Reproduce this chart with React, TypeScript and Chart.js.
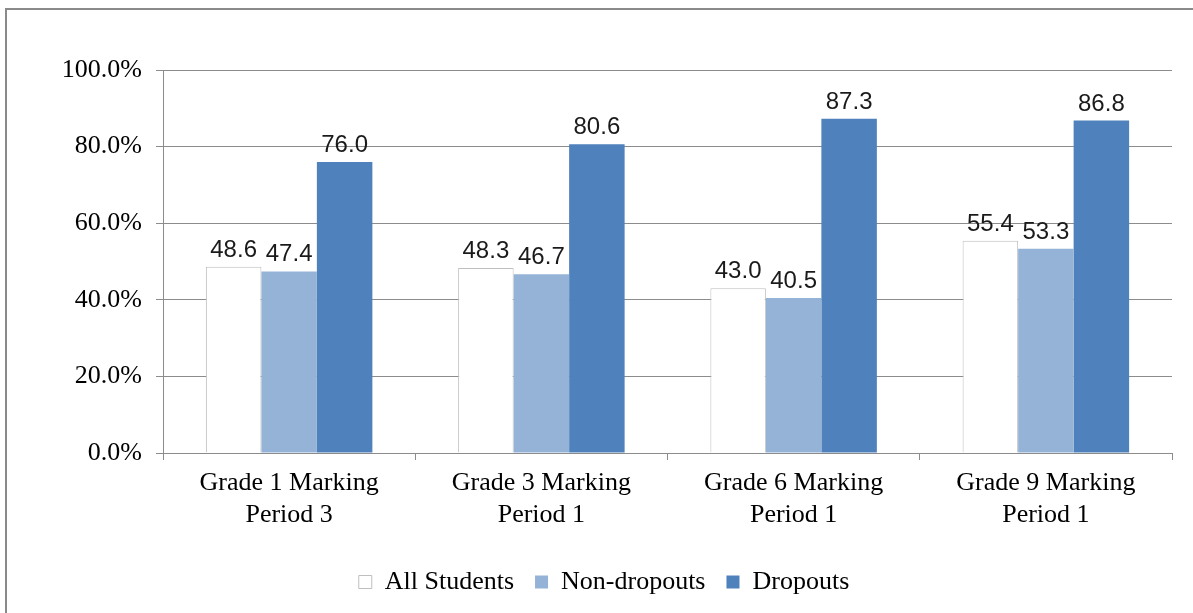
import React, { useEffect, useRef } from "react";
import { Chart, registerables } from "chart.js";

Chart.register(...registerables);

const categories: string[][] = [
  ["Grade 1 Marking", "Period 3"],
  ["Grade 3 Marking", "Period 1"],
  ["Grade 6 Marking", "Period 1"],
  ["Grade 9 Marking", "Period 1"],
];
const allStudents: number[] = [48.6, 48.3, 43.0, 55.4];
const nonDropouts: number[] = [47.4, 46.7, 40.5, 53.3];
const dropouts: number[] = [76.0, 80.6, 87.3, 86.8];
const yTicks: number[] = [0, 20, 40, 60, 80, 100];

const GRID = "#8c8c8c";
const SERIF = "'Liberation Serif', 'Times New Roman', serif";
const SANS = "'Liberation Sans', Arial, sans-serif";

const frame = {
  id: "frame",
  beforeDraw(chart: any) {
    const ctx = chart.ctx;
    ctx.save();
    ctx.fillStyle = "#ffffff";
    ctx.fillRect(0, 0, chart.width, chart.height);
    ctx.strokeStyle = "#8a8a8a";
    ctx.lineWidth = 2;
    ctx.strokeRect(6, 9, chart.width + 20, chart.height + 20);
    ctx.restore();
  },
};

const valueLabels = {
  id: "valueLabels",
  afterDatasetsDraw(chart: any) {
    const ctx = chart.ctx;
    ctx.save();
    ctx.font = `24px ${SANS}`;
    ctx.fillStyle = "#1a1a1a";
    ctx.textAlign = "center";
    ctx.textBaseline = "alphabetic";
    chart.data.datasets.forEach((ds: any, i: number) => {
      const meta = chart.getDatasetMeta(i);
      meta.data.forEach((bar: any, j: number) => {
        const v = ds.data[j] as number;
        ctx.fillText(v.toFixed(1), bar.x, bar.y - 10);
      });
    });
    ctx.restore();
  },
};

const legendShift = {
  id: "legendShift",
  afterLayout(chart: any) {
    const lg = chart.legend;
    if (lg) {
      lg.left += 18;
      lg.right += 18;
    }
  },
};

export default function App() {
  const ref = useRef<HTMLCanvasElement | null>(null);
  useEffect(() => {
    if (!ref.current) return;
    const chart = new Chart(ref.current, {
      type: "bar",
      data: {
        labels: categories,
        datasets: [
          {
            label: "All Students",
            data: allStudents,
            backgroundColor: "#ffffff",
            borderColor: "#bfbfbf",
            borderWidth: 1,
          },
          {
            label: "Non-dropouts",
            data: nonDropouts,
            backgroundColor: "#95b3d7",
            borderColor: "#95b3d7",
            borderWidth: 0,
          },
          {
            label: "Dropouts",
            data: dropouts,
            backgroundColor: "#4f81bd",
            borderColor: "#4f81bd",
            borderWidth: 0,
          },
        ],
      },
      options: {
        animation: false,
        responsive: false,
        maintainAspectRatio: false,
        datasets: { bar: { barPercentage: 1, categoryPercentage: 0.66 } },
        layout: { padding: { left: 0, top: 70, right: 21, bottom: 8 } },
        plugins: {
          tooltip: { enabled: false },
          legend: {
            position: "bottom",
            labels: {
              boxWidth: 13,
              boxHeight: 13,
              padding: 21,
              color: "#000000",
              font: { family: SERIF, size: 26 },
            },
          },
        },
        scales: {
          x: {
            grid: {
              display: true,
              drawOnChartArea: false,
              drawTicks: true,
              offset: true,
              tickLength: 7,
              color: GRID,
            },
            border: { display: true, color: GRID },
            ticks: {
              color: "#000000",
              font: { family: SERIF, size: 26, lineHeight: 1.2 },
              padding: 8,
              maxRotation: 0,
            },
            afterFit(scale: any) {
              scale.height = 95;
            },
          },
          y: {
            min: 0,
            max: 100,
            afterBuildTicks(scale: any) {
              scale.ticks = yTicks.map((v) => ({ value: v }));
            },
            grid: { color: GRID, tickLength: 7 },
            border: { display: true, color: GRID },
            ticks: {
              color: "#000000",
              font: { family: SERIF, size: 26 },
              padding: 14,
              callback: (v: any) => Number(v).toFixed(1) + "%",
            },
            afterFit(scale: any) {
              scale.width = 163;
            },
          },
        },
      },
      plugins: [frame, valueLabels, legendShift],
    });
    return () => chart.destroy();
  }, []);
  return (
    <div style={{ position: "fixed", left: 0, top: 0, width: 1193, height: 613 }}>
      <canvas ref={ref} width={1193} height={613} style={{ width: 1193, height: 613 }} />
    </div>
  );
}
